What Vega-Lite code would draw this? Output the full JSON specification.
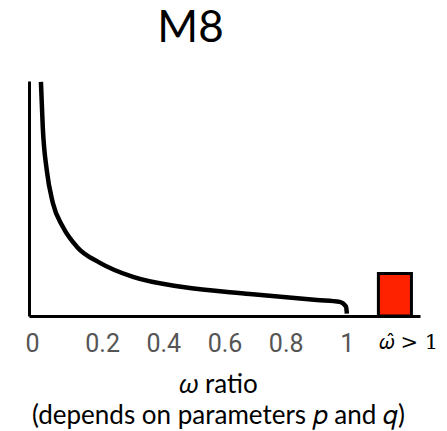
{
  "$schema": "https://vega.github.io/schema/vega-lite/v6.json",
  "width": 391,
  "height": 235,
  "autosize": {"type": "none"},
  "padding": {"left": 29, "top": 81, "right": 27, "bottom": 115},
  "background": "white",
  "title": {"text": "M8", "font": "Lato", "fontSize": 44, "fontWeight": "normal", "color": "black", "anchor": "middle", "dx": -34, "dy": -18},
  "config": {"view": {"stroke": null}},
  "layer": [
    {
      "data": {"values": [
        {"omega": 0.0, "density": 0.996},
        {"omega": 0.006, "density": 0.804},
        {"omega": 0.019, "density": 0.621},
        {"omega": 0.039, "density": 0.481},
        {"omega": 0.072, "density": 0.379},
        {"omega": 0.118, "density": 0.294},
        {"omega": 0.193, "density": 0.226},
        {"omega": 0.301, "density": 0.166},
        {"omega": 0.464, "density": 0.123},
        {"omega": 0.683, "density": 0.094},
        {"omega": 0.902, "density": 0.068},
        {"omega": 0.977, "density": 0.060},
        {"omega": 0.997, "density": 0.040},
        {"omega": 1.0, "density": 0.010}
      ]},
      "mark": {"type": "line", "color": "black", "strokeWidth": 4.5, "interpolate": "monotone"},
      "encoding": {
        "x": {
          "field": "omega", "type": "quantitative",
          "scale": {"domain": [-0.039, 1.239], "nice": false, "zero": false},
          "axis": {
            "values": [0, 0.2, 0.4, 0.6, 0.8, 1, 1.2],
            "labelExpr": "datum.value > 1.1 ? '\ud835\udf14\u0302 > 1' : format(datum.value, '~g')",
            "ticks": false, "grid": false,
            "domainColor": "black", "domainWidth": 3,
            "labelFont": {"condition": {"test": "datum.value > 1.1", "value": "DejaVu Serif"}, "value": "Roboto"},
            "labelFontSize": {"condition": {"test": "datum.value > 1.1", "value": 21}, "value": 25},
            "labelColor": {"condition": {"test": "datum.value > 1.1", "value": "black"}, "value": "#555555"},
            "labelOffset": {"condition": {"test": "datum.value == 0", "value": -9}, "value": 0},
            "labelPadding": 15,
            "labelFlush": false, "labelOverlap": false,
            "title": ["𝜔 ratio", "(depends on parameters 𝑝 and 𝑞)"],
            "titleFont": "Lato", "titleFontSize": 26, "titleFontWeight": "normal", "titleColor": "black",
            "titleX": 189, "titleY": 76, "titleBaseline": "alphabetic", "titleLineHeight": 31, "titleAnchor": "middle"
          }
        },
        "y": {
          "field": "density", "type": "quantitative",
          "scale": {"domain": [0, 1], "nice": false},
          "axis": {"ticks": false, "labels": false, "grid": false, "title": null, "domainColor": "black", "domainWidth": 3}
        }
      }
    },
    {
      "data": {"values": [{"start": 1.103, "end": 1.211, "share": 0.181}]},
      "mark": {"type": "rect", "fill": "#ff2200", "stroke": "black", "strokeWidth": 3},
      "encoding": {
        "x": {"field": "start", "type": "quantitative"},
        "x2": {"field": "end"},
        "y": {"field": "share", "type": "quantitative"},
        "y2": {"datum": 0}
      }
    }
  ]
}
